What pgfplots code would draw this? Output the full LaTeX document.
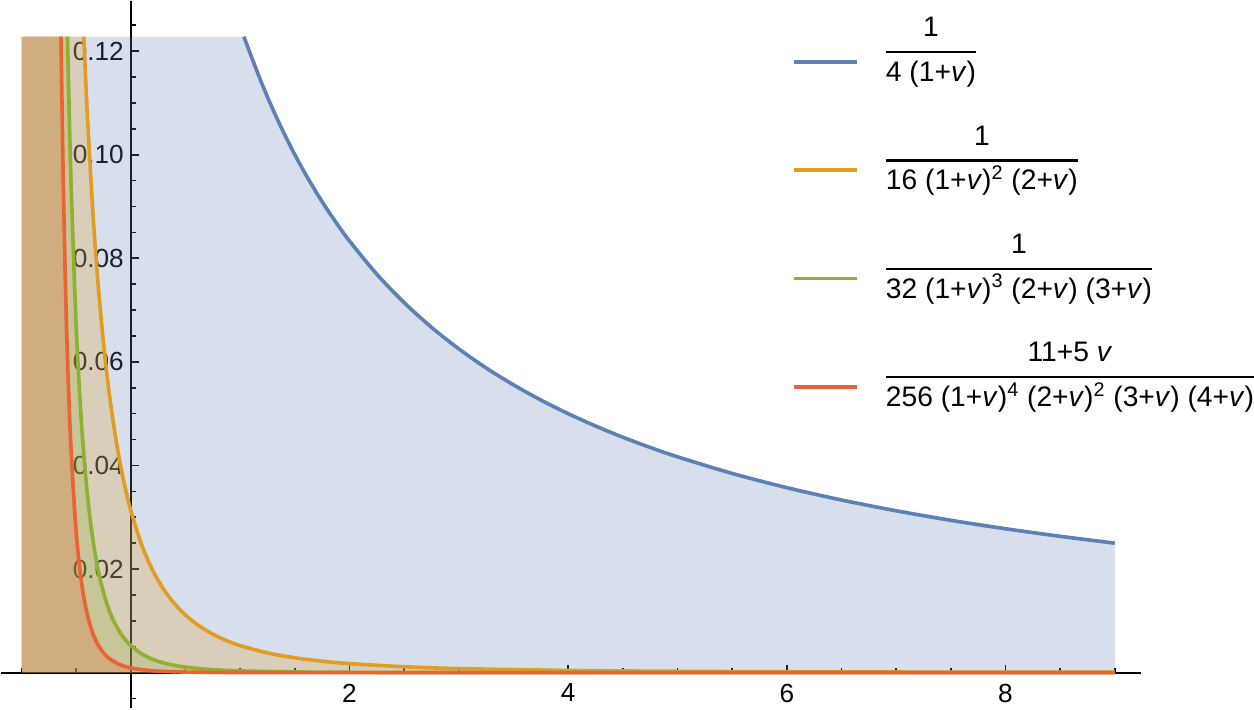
\documentclass[border=0pt]{standalone}
\usepackage{fontspec}
\setmainfont{Liberation Sans}
\usepackage{pgfplots}
\pgfplotsset{compat=1.18}
\usepackage{pgfplotstable}

\definecolor{mblue}{rgb}{0.368417,0.506779,0.709798}
\definecolor{morange}{rgb}{0.880722,0.611041,0.142051}
\definecolor{mgreen}{rgb}{0.560181,0.691569,0.194885}
\definecolor{mred}{rgb}{0.922526,0.385626,0.209179}

\setlength{\arrayrulewidth}{1.2pt}
\newcommand{\fr}[2]{\begin{tabular}{@{}c@{}}#1\\[2pt]\hline\rule{0pt}{14pt}#2\end{tabular}}

% curves (clipped at the top of the plot range)
\pgfplotstableread{
x y
1.034 0.1228
1.1 0.11905
1.2 0.11364
1.3 0.10870
1.4 0.10417
1.5 0.10000
1.6 0.09615
1.7 0.09259
1.8 0.08929
1.9 0.08621
2.0 0.08333
2.25 0.07692
2.5 0.07143
2.75 0.06667
3.0 0.06250
3.25 0.05882
3.5 0.05556
3.75 0.05263
4.0 0.05000
4.25 0.04762
4.5 0.04545
4.75 0.04348
5.0 0.04167
5.5 0.03846
6.0 0.03571
6.5 0.03333
7.0 0.03125
7.5 0.02941
8.0 0.02778
8.5 0.02632
9.0 0.02500
}\tblue

\pgfplotstableread{
x y
-0.431 0.1228
-0.40 0.10851
-0.35 0.08966
-0.30 0.07503
-0.25 0.06349
-0.20 0.05425
-0.15 0.04676
-0.10 0.04061
-0.05 0.03551
0.00 0.03125
0.10 0.02460
0.20 0.01973
0.30 0.01608
0.40 0.01329
0.50 0.01111
0.60 0.00939
0.70 0.00801
0.80 0.00689
0.90 0.00597
1.00 0.00521
1.25 0.00380
1.50 0.00286
1.75 0.00220
2.00 0.00174
2.50 0.00113
3.00 0.00078
4.00 0.00042
5.00 0.00025
6.00 0.00016
7.00 0.00011
9.00 0.00006
}\torange

\pgfplotstableread{
x y
-0.580 0.1228
-0.55 0.09653
-0.50 0.06667
-0.45 0.04752
-0.40 0.03478
-0.35 0.02602
-0.30 0.01985
-0.25 0.01539
-0.20 0.01211
-0.15 0.00965
-0.10 0.00778
-0.05 0.00634
0.00 0.00521
0.10 0.00361
0.20 0.00257
0.30 0.00187
0.40 0.00140
0.50 0.00106
0.75 0.00057
1.00 0.00033
1.50 0.00013
2.00 0.00006
3.00 0.00002
9.00 0.00000
}\tgreen

\pgfplotstableread{
x y
-0.6395 0.1228
-0.62 0.09661
-0.60 0.07632
-0.58 0.06093
-0.55 0.04422
-0.50 0.02698
-0.45 0.01717
-0.40 0.01132
-0.35 0.00769
-0.30 0.00535
-0.25 0.00381
-0.20 0.00277
-0.10 0.00153
0.00 0.00090
0.20 0.00035
0.50 0.00011
1.00 0.00002
2.00 0.00000
9.00 0.00000
}\tred

\begin{document}
\begin{tikzpicture}
\begin{axis}[
    scale only axis,
    width=566pt, height=351pt,
    xmin=-1.189, xmax=9.244,
    ymin=-0.00687, ymax=0.1297,
    axis lines=middle,
    axis line style={-, line width=0.9pt},
    tick align=inside,
    major tick length=4pt,
    minor tick length=2.5pt,
    tick style={black, line width=0.8pt},
    xtick={2,4,6,8},
    minor xtick={-1,-0.5,...,9},
    ytick={0.02,0.04,...,0.12},
    minor ytick={-0.005,0,...,0.125},
    scaled y ticks=false,
    ticklabel style={font=\fontsize{13}{15}\selectfont},
    /pgf/number format/assume math mode=true,
    yticklabel style={/pgf/number format/fixed, /pgf/number format/fixed zerofill, /pgf/number format/precision=2},
    xticklabel style={yshift=-2pt},
    legend style={draw=none, fill=none, inner sep=0pt, row sep=28.5pt,
        at={(axis cs:6.05,0.1275)}, anchor=north west,
        font=\fontsize{14}{17}\selectfont,
        nodes={inner sep=0pt},
        /tikz/every odd column/.append style={column sep=13.5pt}},
    legend cell align=left,
    legend image code/.code={\draw[#1] (0pt,-12pt) -- (31pt,-12pt);},
]
% fills to the axis
\addplot[draw=none, fill=mblue, fill opacity=0.25, forget plot] table {\tblue}
    -- (axis cs:9,0) -- (axis cs:-1,0) -- (axis cs:-1,0.1228) -- cycle;
\addplot[draw=none, fill=morange, fill opacity=0.25, forget plot] table {\torange}
    -- (axis cs:9,0) -- (axis cs:-1,0) -- (axis cs:-1,0.1228) -- cycle;
\addplot[draw=none, fill=mgreen, fill opacity=0.25, forget plot] table {\tgreen}
    -- (axis cs:9,0) -- (axis cs:-1,0) -- (axis cs:-1,0.1228) -- cycle;
\addplot[draw=none, fill=mred, fill opacity=0.25, forget plot] table {\tred}
    -- (axis cs:9,0) -- (axis cs:-1,0) -- (axis cs:-1,0.1228) -- cycle;

% curves
\addplot[mblue, line width=1.8pt, smooth] table {\tblue};
\addlegendentry{\fr{1}{4 (1+\textit{v})}}
\addplot[morange, line width=1.8pt, smooth] table {\torange};
\addlegendentry{\fr{1}{16 (1+\textit{v})\textsuperscript{2} (2+\textit{v})}}
\addplot[mgreen, line width=1.8pt, smooth] table {\tgreen};
\addlegendentry{\fr{1}{32 (1+\textit{v})\textsuperscript{3} (2+\textit{v}) (3+\textit{v})}}
\addplot[mred, line width=1.8pt, smooth] table {\tred};
\addlegendentry{\fr{11+5 \textit{v}}{256 (1+\textit{v})\textsuperscript{4} (2+\textit{v})\textsuperscript{2} (3+\textit{v}) (4+\textit{v})}}
\end{axis}
\end{tikzpicture}
\end{document}
